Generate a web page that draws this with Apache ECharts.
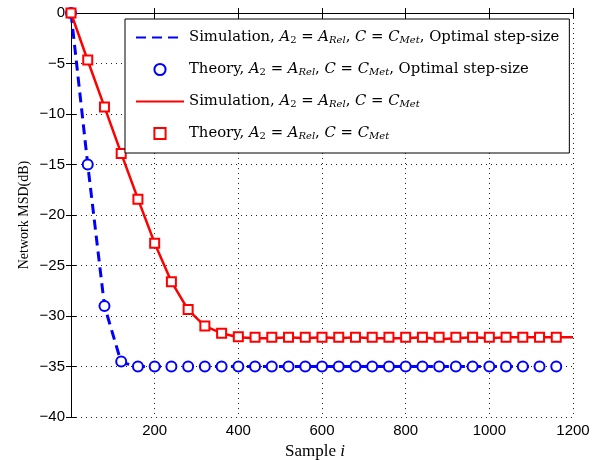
<!DOCTYPE html>
<html>
<head>
<meta charset="utf-8">
<script src="https://cdn.jsdelivr.net/npm/echarts@6/dist/echarts.min.js"></script>
<style>
  html, body { margin: 0; padding: 0; background: #fff; }
  #chart { width: 601px; height: 460px; }
</style>
</head>
<body>
<div id="chart"></div>
<script>
// samples where the markers sit
var markerSamples = [0, 40, 80, 120, 160, 200, 240, 280, 320, 360, 400, 440, 480, 520, 560, 600,
  640, 680, 720, 760, 800, 840, 880, 920, 960, 1000, 1040, 1080, 1120, 1160]
var redSimSamples = markerSamples.concat([1200])

// optimal step-size (blue)
var blueSim = [0, -15.0, -29.0, -34.6, -35.0, -35.0, -35.0, -35.0, -35.0, -35.0, -35.0, -35.0, -35.0, -35.0, -35.0,
  -35.0, -35.0, -35.0, -35.0, -35.0, -35.0, -35.0, -35.0, -35.0, -35.0, -35.0, -35.0, -35.0, -35.0, -35.0]
var blueTheory = [0, -15.0, -29.0, -34.5, -35.0, -35.0, -35.0, -35.0, -35.0, -35.0, -35.0, -35.0, -35.0, -35.0, -35.0,
  -35.0, -35.0, -35.0, -35.0, -35.0, -35.0, -35.0, -35.0, -35.0, -35.0, -35.0, -35.0, -35.0, -35.0, -35.0]

// fixed step-size (red)
var redSim = [0, -4.7, -9.3, -13.9, -18.4, -22.8, -26.6, -29.4, -31.0, -31.7, -32.1, -32.2, -32.2, -32.1, -32.2,
  -32.1, -32.2, -32.1, -32.2, -32.2, -32.2, -32.1, -32.3, -32.2, -32.1, -32.2, -32.1, -32.1, -32.1, -32.1, -32.1]
var redTheory = [0, -4.65, -9.3, -13.9, -18.45, -22.8, -26.6, -29.35, -31.0, -31.7, -32.05, -32.1, -32.1, -32.1, -32.1,
  -32.1, -32.1, -32.1, -32.1, -32.1, -32.1, -32.1, -32.1, -32.1, -32.1, -32.1, -32.1, -32.1, -32.1, -32.1]

var xTicks = [0, 200, 400, 600, 800, 1000, 1200]
var yTicks = [-40, -35, -30, -25, -20, -15, -10, -5, 0]

var legendTexts = {
  simOpt: 'Simulation, {i|A}{s|2} = {i|A}{si|Rel}{t|, }{i|C} = {i|C}{si|Met}{t|, Optimal step-size}',
  theoryOpt: 'Theory, {i|A}{s|2} = {i|A}{si|Rel}{t|, }{i|C} = {i|C}{si|Met}{t|, Optimal step-size}',
  sim: 'Simulation, {i|A}{s|2} = {i|A}{si|Rel}{t|, }{i|C} = {i|C}{si|Met}',
  theory: 'Theory, {i|A}{s|2} = {i|A}{si|Rel}{t|, }{i|C} = {i|C}{si|Met}'
}

function pairs(xs, ys) {
  var out = []
  for (var i = 0; i < ys.length; i++) out.push([xs[i], ys[i]])
  return out
}

var serif = '"DejaVu Serif", "Liberation Serif", serif'
var serif2 = '"Liberation Serif", "DejaVu Serif", serif'
var sans = '"Liberation Sans", Arial, sans-serif'
var fs = 14.8

var myChart = echarts.init(document.getElementById('chart'))
var axisLine = { show: true, lineStyle: { color: '#000', width: 1 } }
var dotted = { show: true, lineStyle: { color: '#222', width: 1, type: [1, 4] } }

var option = {
  animation: false,
  backgroundColor: '#fff',
  grid: { left: 71, right: 28, top: 13, bottom: 43, outerBoundsMode: 'none', containLabel: false },
  xAxis: [
    {
      type: 'value', min: 0, max: 1200, interval: 200,
      axisLine: axisLine,
      axisTick: { show: true, inside: true, length: 5, lineStyle: { color: '#000' } },
      axisLabel: {
        color: '#000', fontFamily: sans, fontSize: 15, margin: 6,
        formatter: function (v) { return v === 0 ? '' : String(v) }
      },
      splitLine: dotted,
      name: 'Sample {i|i}', nameLocation: 'middle', nameGap: 25,
      nameTextStyle: {
        color: '#000', fontFamily: serif2, fontSize: 17, padding: [0, 14, 0, 0],
        rich: { i: { fontFamily: serif2, fontSize: 17, fontStyle: 'italic', color: '#000' } }
      }
    },
    {
      type: 'value', min: 0, max: 1200, interval: 200, position: 'top',
      axisLine: axisLine,
      axisTick: { show: true, inside: true, length: 5, lineStyle: { color: '#000' } },
      axisLabel: { show: false }, splitLine: { show: false }
    }
  ],
  yAxis: [
    {
      type: 'value', min: -40, max: 0, interval: 5,
      axisLine: axisLine,
      axisTick: { show: true, inside: true, length: 5, lineStyle: { color: '#000' } },
      axisLabel: {
        color: '#000', fontFamily: sans, fontSize: 15, margin: 6,
        formatter: function (v) { return v < 0 ? '\u2212' + Math.abs(v) : String(v) }
      },
      splitLine: dotted,
      name: 'Network MSD(dB)', nameLocation: 'middle', nameGap: 40, nameMoveOverlap: false,
      nameTextStyle: { color: '#000', fontFamily: serif2, fontSize: 14 }
    },
    {
      type: 'value', min: -40, max: 0, interval: 5, position: 'right',
      axisLine: axisLine,
      axisTick: { show: true, inside: true, length: 5, lineStyle: { color: '#000' } },
      axisLabel: { show: false }, splitLine: { show: false }
    }
  ],
  legend: {
    data: [
      { name: 'simOpt', itemStyle: { opacity: 0, borderWidth: 0 } },
      { name: 'theoryOpt' },
      { name: 'sim', itemStyle: { opacity: 0, borderWidth: 0 } },
      { name: 'theory' }
    ],
    orient: 'vertical',
    left: 125, top: 19,
    z: 10,
    backgroundColor: '#fff',
    borderColor: '#000', borderWidth: 1,
    padding: [11, 10, 12, 10],
    itemWidth: 48, itemHeight: 14, itemGap: 17,
    formatter: function (name) { return legendTexts[name] },
    textStyle: {
      color: '#000', fontFamily: serif, fontSize: fs,
      rich: {
        i: { fontFamily: serif, fontSize: fs, fontStyle: 'italic', color: '#000' },
        t: { fontFamily: serif, fontSize: fs, color: '#000' },
        s: { fontFamily: serif, fontSize: 10, color: '#000', lineHeight: 10, verticalAlign: 'bottom' },
        si: { fontFamily: serif, fontSize: 10, fontStyle: 'italic', color: '#000', lineHeight: 10, verticalAlign: 'bottom' }
      }
    }
  },
  series: [
    {
      name: 'simOpt', type: 'line', data: pairs(markerSamples, blueSim),
      symbol: 'none', z: 3,
      lineStyle: { color: '#0000ff', width: 3, type: [10, 6] },
      itemStyle: { color: '#0000ff' }
    },
    {
      name: 'theoryOpt', type: 'line', data: pairs(markerSamples, blueTheory),
      symbol: 'emptyCircle', symbolSize: 10, z: 4,
      lineStyle: { color: 'rgba(0,0,0,0)', width: 0 },
      itemStyle: { color: '#0000ff', borderColor: '#0000ff', borderWidth: 3 }
    },
    {
      name: 'sim', type: 'line', data: pairs(redSimSamples, redSim),
      symbol: 'none', z: 5,
      lineStyle: { color: '#ff0000', width: 2.5 },
      itemStyle: { color: '#ff0000' }
    },
    {
      name: 'theory', type: 'line', data: pairs(markerSamples, redTheory),
      symbol: 'emptyRect', symbolSize: 9, z: 6,
      lineStyle: { color: 'rgba(0,0,0,0)', width: 0 },
      itemStyle: { color: '#ff0000', borderColor: '#ff0000', borderWidth: 2.5 }
    }
  ]
}

myChart.setOption(option)
</script>
</body>
</html>
